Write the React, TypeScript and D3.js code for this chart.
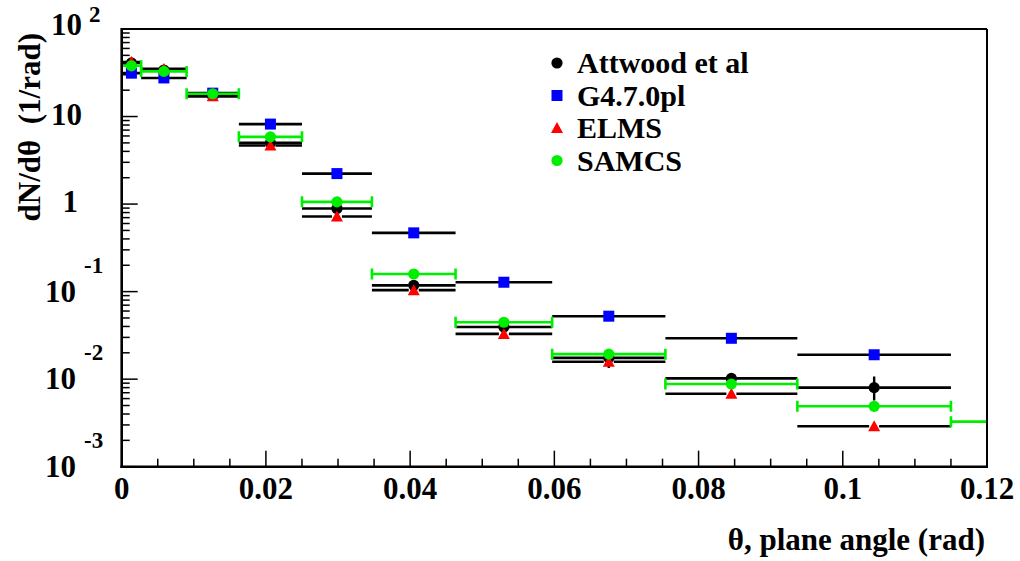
import React from "react";
import * as d3 from "d3";

// Bin edges (rad)
const binLo = [0, 0.0027, 0.009, 0.01625, 0.025, 0.0347, 0.0463, 0.0597, 0.0754, 0.0937];
const binHi = [0.0027, 0.009, 0.01625, 0.025, 0.0347, 0.0463, 0.0597, 0.0754, 0.0937, 0.115];

// Series values dN/dθ (1/rad)
const attwood = [41, 34, 17.5, 5.0, 0.89, 0.118, 0.0395, 0.0175, 0.0102, 0.008];
const attwoodErrLo = [41, 34, 17.5, 5.0, 0.89, 0.118, 0.0395, 0.0134, 0.0092, 0.0057];
const attwoodErrHi = [41, 34, 17.5, 5.0, 0.89, 0.118, 0.0395, 0.0215, 0.0113, 0.0107];
const g4 = [31.3, 27.6, 18.5, 8.2, 2.23, 0.469, 0.128, 0.0524, 0.0293, 0.019];
const elms = [42, 35, 17, 4.67, 0.72, 0.104, 0.0329, 0.0158, 0.0068, 0.0029];

// SAMCS has one extra bin
const samcsLo = [0, 0.0027, 0.009, 0.01625, 0.025, 0.0347, 0.0463, 0.0597, 0.0754, 0.0937, 0.115];
const samcsHi = [0.0027, 0.009, 0.01625, 0.025, 0.0347, 0.0463, 0.0597, 0.0754, 0.0937, 0.115, 0.14];
const samcs = [38, 32.8, 18.2, 5.86, 1.06, 0.159, 0.0447, 0.0193, 0.0088, 0.0049, 0.00327];

const xTicks = [0, 0.02, 0.04, 0.06, 0.08, 0.1, 0.12];
const xTickLabels = ["0", "0.02", "0.04", "0.06", "0.08", "0.1", "0.12"];
const yTicks = [1e-3, 1e-2, 1e-1, 1, 10, 100];
const yTickBase = ["10", "10", "10", "1", "10", "10"];
const yTickExp = ["-3", "-2", "-1", "", "", "2"];

const legendNames = ["Attwood et al", "G4.7.0pl", "ELMS", "SAMCS"];

const FONT = "Liberation Serif";
const GREEN = "#00ee00";
const BLUE = "#0000ff";
const RED = "#ff0000";

const X0 = 121.7, X1 = 987, YT = 29, YB = 466.7;

function Marker({ type, cx, cy, color }: { type: string; cx: number; cy: number; color: string }) {
  if (type === "circle") return <circle cx={cx} cy={cy} r={5.6} fill={color} />;
  if (type === "square") return <rect x={cx - 5.5} y={cy - 5.5} width={11} height={11} fill={color} />;
  return <path d={`M${cx},${cy - 6} L${cx + 6},${cy + 5} L${cx - 6},${cy + 5} Z`} fill={color} />;
}

const T = (props: any) => <text fontFamily={FONT} fontWeight="bold" style={{ whiteSpace: "pre" }} {...props} />;

export default function App() {
  const x = d3.scaleLinear().domain([0, 0.12]).range([X0, X1]);
  const y = d3.scaleLog().domain([1e-3, 1e2]).range([YB, YT]);

  const xMinor = d3.range(0, 0.1201, 0.005).filter((v) => Math.abs(v / 0.02 - Math.round(v / 0.02)) > 1e-6);
  const yMinor: number[] = [];
  for (let e = -3; e < 2; e++) for (let m = 2; m <= 9; m++) yMinor.push(m * Math.pow(10, e));

  const hbar = (lo: number, hi: number, v: number, color: string, gap: number, key: string, caps = false) => {
    const cx = x((lo + hi) / 2);
    const cy = y(v);
    return (
      <g key={key}>
        <line x1={x(lo)} x2={cx - gap} y1={cy} y2={cy} stroke={color} strokeWidth={2.6} />
        <line x1={cx + gap} x2={x(hi)} y1={cy} y2={cy} stroke={color} strokeWidth={2.6} />
        {caps && (
          <>
            <line x1={x(lo)} x2={x(lo)} y1={cy - 5.5} y2={cy + 5.5} stroke={color} strokeWidth={2.6} />
            <line x1={x(hi)} x2={x(hi)} y1={cy - 5.5} y2={cy + 5.5} stroke={color} strokeWidth={2.6} />
          </>
        )}
      </g>
    );
  };

  const series = [
    { vals: attwood, type: "circle", color: "#000" },
    { vals: g4, type: "square", color: BLUE },
    { vals: elms, type: "triangle", color: RED },
  ];

  return (
    <svg width={1020} height={561} style={{ position: "absolute", left: 0, top: 0, background: "#fff" }}>
      <defs>
        <clipPath id="frame">
          <rect x={X0} y={YT} width={X1 - X0} height={YB - YT} />
        </clipPath>
      </defs>
      <rect x={0} y={0} width={1020} height={561} fill="#fff" />

      {/* ticks */}
      {xTicks.map((t) => (
        <line key={"xt" + t} x1={x(t)} x2={x(t)} y1={YB} y2={YB - 16} stroke="#000" strokeWidth={1.5} />
      ))}
      {xMinor.map((t) => (
        <line key={"xm" + t} x1={x(t)} x2={x(t)} y1={YB} y2={YB - 8} stroke="#000" strokeWidth={1.5} />
      ))}
      {yTicks.map((t) => (
        <line key={"yt" + t} x1={X0} x2={X0 + 16} y1={y(t)} y2={y(t)} stroke="#000" strokeWidth={1.5} />
      ))}
      {yMinor.map((t) => (
        <line key={"ym" + t} x1={X0} x2={X0 + 8} y1={y(t)} y2={y(t)} stroke="#000" strokeWidth={1.5} />
      ))}

      {/* data */}
      <g clipPath="url(#frame)">
        {series.map((s, si) => (
          <g key={"s" + si}>
            {s.vals.map((v, i) => hbar(binLo[i], binHi[i], v, "#000", si === 1 ? 0 : 5, `b${si}-${i}`))}
            {si === 0 &&
              attwood.map((v, i) => {
                const cx = x((binLo[i] + binHi[i]) / 2);
                return (
                  <g key={"ve" + i}>
                    <line x1={cx} x2={cx} y1={y(attwoodErrHi[i])} y2={y(v)} stroke="#000" strokeWidth={2.4} />
                    <line x1={cx} x2={cx} y1={y(v)} y2={y(attwoodErrLo[i])} stroke="#000" strokeWidth={2.4} />
                  </g>
                );
              })}
            {s.vals.map((v, i) => (
              <Marker key={"m" + i} type={s.type} cx={x((binLo[i] + binHi[i]) / 2)} cy={y(v)} color={s.color} />
            ))}
          </g>
        ))}
        <g>
          {samcs.map((v, i) => hbar(samcsLo[i], samcsHi[i], v, GREEN, 0, "sg" + i, true))}
          {samcs.map((v, i) => (
            <Marker key={"sm" + i} type="circle" cx={x((samcsLo[i] + samcsHi[i]) / 2)} cy={y(v)} color={GREEN} />
          ))}
        </g>
      </g>

      {/* frame */}
      <line x1={X0} x2={X1} y1={YT} y2={YT} stroke="#000" strokeWidth={2} />
      <line x1={X1} x2={X1} y1={YT} y2={YB} stroke="#000" strokeWidth={2} />
      <line x1={X0} x2={X0} y1={YT - 1} y2={YB + 1.3} stroke="#000" strokeWidth={2.6} />
      <line x1={X0 - 1.3} x2={X1 + 1} y1={YB} y2={YB} stroke="#000" strokeWidth={2.6} />

      {/* x tick labels */}
      {xTicks.map((t, i) => (
        <T key={"xl" + t} x={x(t)} y={499} textAnchor="middle" fontSize={31}>
          {xTickLabels[i]}
        </T>
      ))}

      {/* y tick labels */}
      {yTicks.map((t, i) => {
        const ty = y(t);
        const exp = yTickExp[i];
        if (!exp) {
          return (
            <T key={"yl" + t} x={yTickBase[i] === "1" ? 78 : 82} y={ty + 8} textAnchor="end" fontSize={31}>
              {yTickBase[i]}
            </T>
          );
        }
        const pos = !exp.startsWith("-");
        return (
          <g key={"yl" + t}>
            <T x={pos ? 82 : 76} y={pos ? ty + 6 : ty + 10} textAnchor="end" fontSize={31}>
              {yTickBase[i]}
            </T>
            <T x={pos ? 89 : 84} y={pos ? ty - 7 : ty - 19} textAnchor="start" fontSize={23}>
              {exp}
            </T>
          </g>
        );
      })}

      {/* axis titles */}
      <T x={985} y={550} textAnchor="end" fontSize={31}>
        θ, plane angle (rad)
      </T>
      <T transform="translate(40,33) rotate(-90)" textAnchor="end" fontSize={31}>
        {"dN/dθ  (1/rad)"}
      </T>

      {/* legend */}
      {legendNames.map((name, i) => {
        const by = 73 + i * 32.5;
        const types = ["circle", "square", "triangle", "circle"];
        const colors = ["#000", BLUE, RED, GREEN];
        return (
          <g key={"lg" + i}>
            <Marker type={types[i]} cx={557} cy={by - 10} color={colors[i]} />
            <T x={577} y={by} fontSize={30}>
              {name}
            </T>
          </g>
        );
      })}
    </svg>
  );
}
